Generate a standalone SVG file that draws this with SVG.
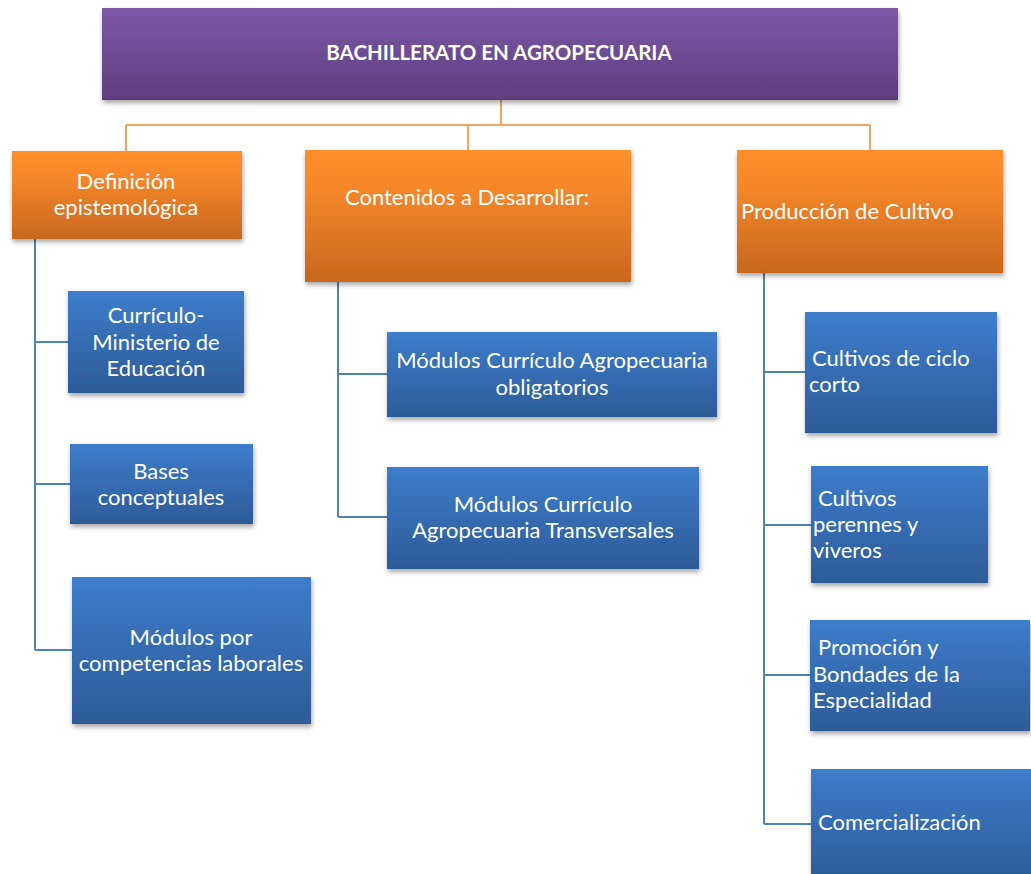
<svg xmlns="http://www.w3.org/2000/svg" width="1031" height="874" viewBox="0 0 1031 874">
<defs>
<linearGradient id="gPurple" x1="0" y1="0" x2="0" y2="1"><stop offset="0" stop-color="#7D59A8"/><stop offset="1" stop-color="#5D3E7D"/></linearGradient>
<linearGradient id="gOrange" x1="0" y1="0" x2="0" y2="1"><stop offset="0" stop-color="#FE8F2B"/><stop offset="0.3" stop-color="#F5872A"/><stop offset="1" stop-color="#C9671D"/></linearGradient>
<linearGradient id="gBlue" x1="0" y1="0" x2="0" y2="1"><stop offset="0" stop-color="#3D7DCB"/><stop offset="1" stop-color="#2D5B98"/></linearGradient>
<filter id="sh" x="-10%" y="-10%" width="130%" height="140%"><feDropShadow dx="1" dy="3" stdDeviation="2.5" flood-color="#000" flood-opacity="0.35"/></filter>
<style>
.t{font-family:Lato,"Open Sans","Liberation Sans",sans-serif;font-size:22px;fill:#fff}
.c{text-anchor:middle}
.b{font-weight:bold;font-size:20.5px}
.oc{fill:none;stroke:#F4A460;stroke-width:2}
.bc{fill:none;stroke:#4F81BD;stroke-width:2}
</style>
</defs>
<g id="connectors">
<path class="oc" d="M501 100V125M126 125H870M126 125V151M468 125V150M870 125V150"/>
<path class="oc" d="M468 125H501" stroke-width="3"/>
<path class="bc" d="M35 239V650M35 342H68M35 484H70M35 650H72"/>
<path class="bc" d="M338 282V517M338 374H387M338 517H387"/>
<path class="bc" d="M764 273V824M764 372H805M764 525H811M764 675H810M764 824H811"/>
</g>
<g id="root"><rect x="102" y="8" width="796" height="92" fill="url(#gPurple)" filter="url(#sh)"/><text class="t c b" x="499" y="60">BACHILLERATO EN AGROPECUARIA</text></g>
<g id="definicion"><rect x="12" y="151" width="230" height="88" fill="url(#gOrange)" filter="url(#sh)"/><text class="t c" x="126" y="189">Definición</text><text class="t c" x="126" y="215">epistemológica</text></g>
<g id="contenidos"><rect x="305" y="150" width="326" height="132" fill="url(#gOrange)" filter="url(#sh)"/><text class="t c" x="467" y="205">Contenidos a Desarrollar:</text></g>
<g id="produccion"><rect x="737" y="150" width="266" height="123" fill="url(#gOrange)" filter="url(#sh)"/><text class="t" x="741" y="219">Producción de Cultivo</text></g>
<g id="curriculo"><rect x="68" y="291" width="176" height="102" fill="url(#gBlue)" filter="url(#sh)"/><text class="t c" x="156" y="323">Currículo-</text><text class="t c" x="156" y="350">Ministerio de</text><text class="t c" x="156" y="376">Educación</text></g>
<g id="bases"><rect x="70" y="444" width="183" height="80" fill="url(#gBlue)" filter="url(#sh)"/><text class="t c" x="161" y="479">Bases</text><text class="t c" x="161" y="505">conceptuales</text></g>
<g id="competencias"><rect x="72" y="577" width="239" height="147" fill="url(#gBlue)" filter="url(#sh)"/><text class="t c" x="191" y="645">Módulos por</text><text class="t c" x="191" y="671">competencias laborales</text></g>
<g id="obligatorios"><rect x="387" y="332" width="330" height="85" fill="url(#gBlue)" filter="url(#sh)"/><text class="t c" x="552" y="368">Módulos Currículo Agropecuaria</text><text class="t c" x="552" y="395">obligatorios</text></g>
<g id="transversales"><rect x="387" y="467" width="312" height="102" fill="url(#gBlue)" filter="url(#sh)"/><text class="t c" x="543" y="512">Módulos Currículo</text><text class="t c" x="543" y="538">Agropecuaria Transversales</text></g>
<g id="ciclocorto"><rect x="805" y="312" width="192" height="121" fill="url(#gBlue)" filter="url(#sh)"/><text class="t" x="812" y="366">Cultivos de ciclo</text><text class="t" x="809" y="392">corto</text></g>
<g id="perennes"><rect x="811" y="466" width="177" height="117" fill="url(#gBlue)" filter="url(#sh)"/><text class="t" x="818" y="506">Cultivos</text><text class="t" x="813" y="532">perennes y</text><text class="t" x="813" y="558">viveros</text></g>
<g id="promocion"><rect x="810" y="620" width="220" height="111" fill="url(#gBlue)" filter="url(#sh)"/><text class="t" x="818" y="655">Promoción y</text><text class="t" x="813" y="682">Bondades de la</text><text class="t" x="813" y="708">Especialidad</text></g>
<g id="comercializacion"><rect x="811" y="769" width="222" height="110" fill="url(#gBlue)" filter="url(#sh)"/><text class="t" x="818" y="830">Comercialización</text></g>
</svg>
